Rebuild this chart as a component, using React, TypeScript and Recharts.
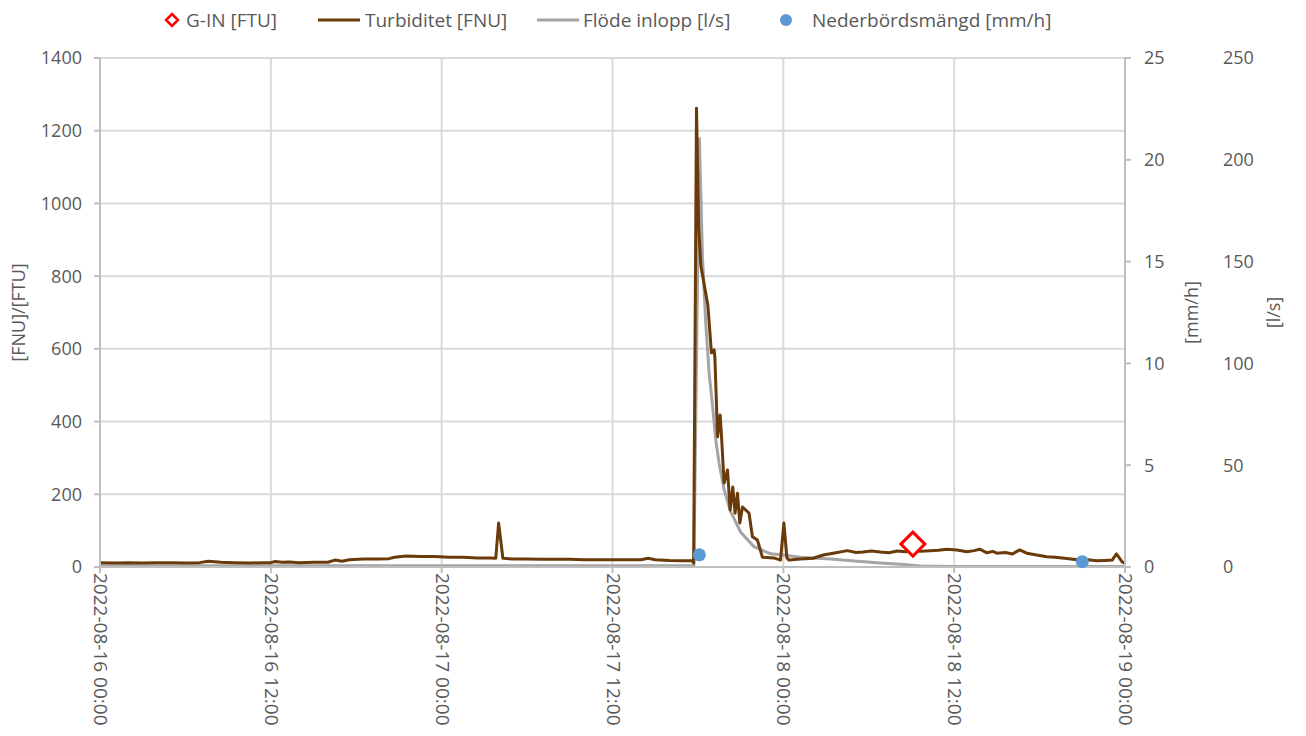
import React from 'react';
import {
  ComposedChart,
  Line,
  Scatter,
  XAxis,
  YAxis,
  CartesianGrid,
  Legend,
} from 'recharts';

// hours since 2022-08-16 00:00
const xTicks = [0, 12, 24, 36, 48, 60, 72];
const xTickLabels = [
  '2022-08-16 00:00',
  '2022-08-16 12:00',
  '2022-08-17 00:00',
  '2022-08-17 12:00',
  '2022-08-18 00:00',
  '2022-08-18 12:00',
  '2022-08-19 00:00',
];
const fnuTicks = [0, 200, 400, 600, 800, 1000, 1200, 1400];
const mmhTicks = [0, 5, 10, 15, 20, 25];
const lsTicks = [0, 50, 100, 150, 200, 250];

const turbHours = [
  0, 1, 2, 3, 4, 5, 6, 7, 7.6, 8.5, 9.5, 10.5, 11.5, 12, 12.3, 12.8, 13.3, 14, 15, 16, 16.5, 17,
  17.5, 18.5, 19.5, 20.3, 20.7, 21.5, 22.5, 23.5, 24.5, 25.5, 26.5, 27.4, 27.8, 28, 28.3, 29, 30,
  31, 32, 33, 34, 35, 36, 37, 38, 38.5, 39, 40, 41, 41.6, 41.7, 41.9, 42.05, 42.2, 42.45, 42.7,
  42.95, 43.14, 43.19, 43.38, 43.56, 43.66, 43.84, 44.08, 44.26, 44.45, 44.61, 44.78, 44.94,
  45.13, 45.59, 45.83, 46.18, 46.53, 47.34, 47.8, 48.04, 48.25, 48.4, 49.2, 50.1, 50.8, 51.5,
  52.5, 53.1, 53.6, 54.2, 54.8, 55.4, 56, 56.6, 57.1, 57.7, 58.3, 58.9, 59.5, 60.2, 60.9, 61.4,
  61.8, 62.3, 62.7, 63, 63.6, 64.1, 64.6, 65.1, 65.8, 66.5, 67.1, 67.6, 68.2, 68.8, 69.4, 70,
  70.6, 71.1, 71.4, 71.8, 72,
];
const turbValues = [
  12, 11, 12, 11, 12, 12, 11, 12, 16, 13, 12, 11, 12, 12, 15, 13, 14, 12, 13, 13, 19, 16,
  20, 22, 22, 23, 27, 30, 29, 29, 27, 27, 25, 25, 24, 121, 24, 22, 22,
  21, 21, 21, 20, 20, 20, 20, 20, 24, 20, 18, 17, 17, 11, 1262, 940, 830, 775, 720,
  589, 597, 578, 358, 418, 358, 231, 267, 157, 220, 148, 203, 121,
  165, 148, 83, 74, 27, 25, 19, 121, 25, 19, 22, 24, 33, 38,
  45, 40, 41, 44, 41, 39, 44, 42, 45, 43, 45, 46, 49, 47, 42, 45,
  49, 39, 43, 38, 40, 36, 47, 38, 33, 28, 27, 25, 22, 19, 20, 17,
  18, 19, 36, 14, 10,
];

const flowHours = [
  0, 12, 24, 36, 41.6, 41.72, 42.1, 42.32, 42.55, 42.79, 43.03, 43.26, 43.49, 43.84, 44.31,
  45.01, 45.94, 47.11, 47.81, 49.21, 51.32, 53, 54.82, 56.5, 57.63, 60, 72,
];
const flowValues = [
  0.6, 0.6, 0.6, 0.6, 0.6, 1, 211, 152, 120, 95, 79, 62, 51, 38, 27,
  17, 10, 6.5, 6, 4.8, 3.9, 3, 2, 1.2, 0.5, 0.3, 0.3,
];

const precipHours = [42.1, 69];
const precipValues = [0.6, 0.26];

const ginHours = [57.1];
const ginValues = [63];

const turbData = turbHours.map((h, i) => ({ h, v: turbValues[i] }));
const flowData = flowHours.map((h, i) => ({ h, v: flowValues[i] }));
const precipData = precipHours.map((h, i) => ({ h, v: precipValues[i] }));
const ginData = ginHours.map((h, i) => ({ h, v: ginValues[i] }));

const FONT = '"Open Sans", sans-serif';
const TEXT = '#595959';
const BROWN = '#6B3A0B';
const GRAY = '#A5A5A5';
const BLUE = '#5B9BD5';
const RED = '#FF0000';
const AXIS = '#BFBFBF';

const XTick = (props: any) => {
  const { x, y, payload } = props;
  const idx = xTicks.indexOf(payload.value);
  return (
    <text
      x={x}
      y={y + 6}
      transform={`rotate(90 ${x} ${y})`}
      textAnchor="start"
      fill={TEXT}
      fontSize={19}
      fontFamily={FONT}
    >
      {xTickLabels[idx]}
    </text>
  );
};

const AxisTitle = (props: any) => {
  const { viewBox, value, xOffset } = props;
  const cx = viewBox.x + xOffset;
  const cy = viewBox.y + viewBox.height / 2;
  return (
    <text
      x={cx}
      y={cy}
      transform={`rotate(-90 ${cx} ${cy})`}
      textAnchor="middle"
      dominantBaseline="central"
      fill={TEXT}
      fontSize={18}
      fontFamily={FONT}
    >
      {value}
    </text>
  );
};

const Diamond = (props: any) => {
  const { cx, cy } = props;
  const r = 12;
  return (
    <path
      d={`M${cx},${cy - r}L${cx + r},${cy}L${cx},${cy + r}L${cx - r},${cy}Z`}
      fill="#FFFFFF"
      stroke={RED}
      strokeWidth={3}
    />
  );
};

const Dot = (props: any) => <circle cx={props.cx} cy={props.cy} r={6.5} fill={BLUE} />;

const legendText: React.CSSProperties = {
  position: 'absolute',
  top: 18,
  transform: 'translateY(-50%)',
  fontFamily: FONT,
  fontSize: 19,
  color: TEXT,
  whiteSpace: 'nowrap',
};

const renderLegend = () => (
  <div style={{ position: 'relative', width: 1306, height: 56 }}>
    <svg width={1306} height={36} style={{ position: 'absolute', left: 0, top: 0 }}>
      <path d="M172,12L178,18L172,24L166,18Z" fill="#FFFFFF" stroke={RED} strokeWidth={2.5} />
      <line x1={318} y1={18} x2={360} y2={18} stroke={BROWN} strokeWidth={3} />
      <line x1={537} y1={18} x2={579} y2={18} stroke={GRAY} strokeWidth={3} />
      <circle cx={786} cy={18} r={6} fill={BLUE} />
    </svg>
    <span style={{ ...legendText, left: 186 }}>G-IN [FTU]</span>
    <span style={{ ...legendText, left: 365 }}>Turbiditet [FNU]</span>
    <span style={{ ...legendText, left: 583 }}>Flöde inlopp [l/s]</span>
    <span style={{ ...legendText, left: 812 }}>Nederbördsmängd [mm/h]</span>
  </div>
);

const tickStyle = { fill: TEXT, fontSize: 18, fontFamily: FONT };

export default function App() {
  return (
    <div style={{ position: 'absolute', left: 0, top: 0, background: '#fff' }}>
      <ComposedChart
        width={1306}
        height={736}
        margin={{ top: 2, right: 0, bottom: 0, left: 0 }}
      >
        <CartesianGrid
          yAxisId="fnu"
          stroke="#D9D9D9"
          strokeWidth={2}
          horizontalValues={fnuTicks}
          verticalValues={xTicks}
        />
        <XAxis
          dataKey="h"
          type="number"
          domain={[0, 72]}
          ticks={xTicks}
          allowDataOverflow
          height={169}
          stroke={AXIS}
          strokeWidth={2}
          tickSize={6}
          tickMargin={0}
          tick={<XTick />}
        />
        <YAxis
          yAxisId="fnu"
          domain={[0, 1400]}
          ticks={fnuTicks}
          width={100}
          stroke={AXIS}
          strokeWidth={2}
          tickSize={6}
          tickMargin={12}
          tick={tickStyle}
          label={<AxisTitle value="[FNU]/[FTU]" xOffset={18} />}
        />
        <YAxis
          yAxisId="b_ls"
          orientation="right"
          domain={[0, 250]}
          ticks={lsTicks}
          width={89}
          axisLine={false}
          tickLine={false}
          tickSize={0}
          tickMargin={6}
          tick={tickStyle}
          label={<AxisTitle value="[l/s]" xOffset={56} />}
        />
        <YAxis
          yAxisId="a_mmh"
          orientation="right"
          domain={[0, 25]}
          ticks={mmhTicks}
          width={92}
          stroke={AXIS}
          strokeWidth={2}
          tickSize={6}
          tickMargin={13}
          tick={tickStyle}
          label={<AxisTitle value="[mm/h]" xOffset={66} />}
        />
        <Legend verticalAlign="top" align="left" content={renderLegend} />
        <Line
          yAxisId="b_ls"
          data={flowData}
          dataKey="v"
          name="Flöde inlopp [l/s]"
          stroke={GRAY}
          strokeWidth={3}
          dot={false}
          isAnimationActive={false}
        />
        <Line
          yAxisId="fnu"
          data={turbData}
          dataKey="v"
          name="Turbiditet [FNU]"
          stroke={BROWN}
          strokeWidth={3}
          strokeLinejoin="round"
          dot={false}
          isAnimationActive={false}
        />
        <Scatter
          yAxisId="a_mmh"
          data={precipData}
          dataKey="v"
          name="Nederbördsmängd [mm/h]"
          shape={<Dot />}
          isAnimationActive={false}
        />
        <Scatter
          yAxisId="fnu"
          data={ginData}
          dataKey="v"
          name="G-IN [FTU]"
          shape={<Diamond />}
          isAnimationActive={false}
        />
      </ComposedChart>
    </div>
  );
}
